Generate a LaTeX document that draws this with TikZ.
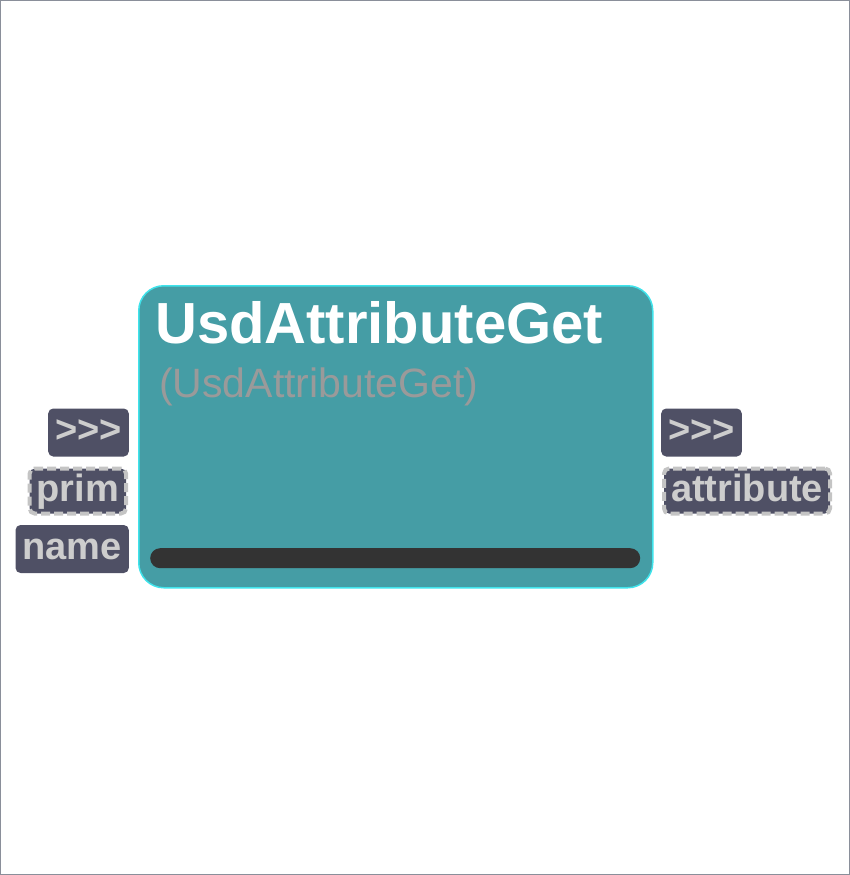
\documentclass[tikz,border=0pt]{standalone}
\usepackage{fontspec}
\setmainfont[Ligatures=TeXOff]{Liberation Sans}
\definecolor{nodefill}{HTML}{459DA5}
\definecolor{nodeborder}{HTML}{3FE3EB}
\definecolor{portfill}{HTML}{4F5065}
\definecolor{porttext}{HTML}{CDCDCD}
\definecolor{dashcol}{HTML}{C4C4C4}
\definecolor{subcol}{HTML}{9A9A9A}
\definecolor{barcol}{HTML}{333333}
\definecolor{framecol}{HTML}{8A8F9A}
\tikzset{
  portbox/.style={fill=portfill, rounded corners=5pt, text=porttext,
    font=\fontsize{38pt}{40pt}\selectfont\bfseries, inner xsep=7pt, inner ysep=5pt,
    text height=29pt, text depth=9pt},
  dashport/.style={portbox, draw=dashcol, line width=4pt, dash pattern=on 9pt off 4pt, inner xsep=7pt, inner ysep=3.5pt},
}
\begin{document}
\begin{tikzpicture}[x=1pt,y=-1pt]
\useasboundingbox (0,0) rectangle (850,875);
\draw[framecol, line width=1pt] (0.5,0.5) rectangle (849.5,874.5);
% main node
\node[draw=nodeborder, line width=1.5pt, fill=nodefill, rounded corners=25pt,
  minimum width=514pt, minimum height=302pt, anchor=north west, inner sep=0pt] (main) at (138,285) {};
\node[anchor=base west, inner sep=0pt, text=white, font=\fontsize{58pt}{60pt}\selectfont\bfseries] (title) at (155,343) {UsdAttributeGet};
\node[anchor=base west, inner sep=0pt, text=subcol, font=\fontsize{41pt}{43pt}\selectfont] (sub) at (159,397) {(UsdAttributeGet)};
\node[fill=barcol, rounded corners=10pt, minimum width=490pt, minimum height=20pt, anchor=north west, inner sep=0pt] (bar) at (150,548) {};
% left ports
\node[portbox, anchor=east] (inexec) at (129,432.5) {>>>};
\node[dashport, anchor=east] (prim) at (128,491) {prim};
\node[portbox, anchor=east] (name) at (129,549) {name};
% right ports
\node[portbox, anchor=west] (outexec) at (661,432.5) {>>>};
\node[dashport, anchor=west] (attr) at (662,491) {attribute};
\end{tikzpicture}
\end{document}
